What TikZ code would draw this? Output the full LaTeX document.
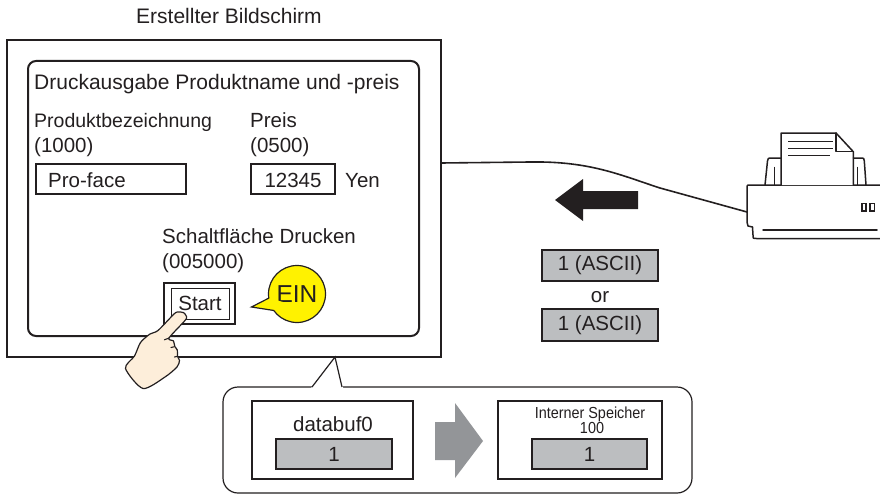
\documentclass[tikz,border=0pt]{standalone}
\usepackage{fontspec}
\setmainfont{Liberation Sans}
\definecolor{inkc}{HTML}{231F20}
\definecolor{boxgray}{HTML}{BCBEC0}
\definecolor{arrowgray}{HTML}{939598}
\definecolor{einyellow}{HTML}{FFF200}
\definecolor{skin}{RGB}{253,238,218}
\begin{document}
\begin{tikzpicture}[x=1pt,y=-1pt,
  txt/.style={inner sep=0pt, text=inkc, font=\fontsize{20.5}{24}\selectfont},
  bigtxt/.style={txt, font=\fontsize{21}{25}\selectfont},
  smalltxt/.style={txt, font=\fontsize{16}{16}\selectfont},
  frame/.style={rectangle, draw=inkc, line width=1.2pt, inner sep=0pt, text=inkc,
                font=\fontsize{20.5}{24}\selectfont},
  gbox/.style={frame, fill=boxgray},
  pr/.style={draw=inkc, line width=1.5pt, line join=round, line cap=round},
]
\useasboundingbox (0,0) rectangle (880,495);

% ---- screen ----
\node[bigtxt, anchor=base west] (caption) at (136,24) {Erstellter Bildschirm};
\node[frame, line width=2.7pt, minimum width=434pt, minimum height=317pt] (screen) at (224,198.5) {};
\node[frame, line width=2pt, rounded corners=8pt, minimum width=391pt, minimum height=275pt] (panel) at (223.5,198.5) {};

\node[bigtxt, anchor=base west] (title) at (34,89) {Druckausgabe Produktname und -preis};
\node[txt, anchor=base west, font=\fontsize{19.5}{24}\selectfont] (namelbl) at (34,127) {Produktbezeichnung};
\node[txt, anchor=base west] (nameaddr) at (34,152) {(1000)};
\node[txt, anchor=base west] (pricelbl) at (250,127) {Preis};
\node[txt, anchor=base west] (priceaddr) at (250,152) {(0500)};

\node[frame, minimum width=150pt, minimum height=30pt] (namebox) at (111,179) {};
\node[txt, anchor=base west] (nameval) at (48,187) {Pro-face};
\node[frame, minimum width=84pt, minimum height=30pt] (pricebox) at (293,179) {};
\node[txt, anchor=base] (priceval) at (293,187) {12345};
\node[txt, anchor=base west] (yen) at (345,187) {Yen};

\node[txt, anchor=base west] (btnlbl) at (162,243) {Schaltfläche Drucken};
\node[txt, anchor=base west] (btnaddr) at (162,268) {(005000)};
\node[frame, line width=2pt, minimum width=71pt, minimum height=41pt] (btnouter) at (199.5,303.5) {};
\node[frame, line width=1pt, minimum width=58pt, minimum height=31pt] (start) at (200,303.5) {Start};

% ---- EIN balloon ----
\node[circle, draw=inkc, line width=1.2pt, fill=einyellow, minimum size=57pt, inner sep=0pt,
      text=inkc, font=\fontsize{24.5}{28}\selectfont] (ein) at (297,294) {EIN};
\coordinate (einA) at (269,298);
\coordinate (einB) at (274,310.5);
\coordinate (eintip) at (251.5,307);
\fill[einyellow] (einA) -- (eintip) -- (einB) -- (283,302) -- cycle;
\draw[inkc, line width=1.2pt, line join=miter] (einA) -- (eintip) -- (einB);

% ---- pointing hand ----
\filldraw[fill=skin, draw=inkc, line width=1.2pt, line join=round]
  plot[smooth cycle, tension=0.45] coordinates {
    (178,312) (183.5,312.6) (186.5,316.5) (185,320.5) (169,338)
    (173.5,341) (174.8,346.5) (177.3,350) (177.6,356.5) (179.5,360.5) (177,367)
    (165,377) (143,388.5) (125.5,368.5) (134.5,356) (140.5,342.5) (150,334) (158,330.5) (174,314)};
\draw[inkc, line width=1.1pt, line cap=round] (169,338) -- (164.5,339.8);
\draw[inkc, line width=1.1pt, line cap=round] (174,346.8) -- (171,347.5);
\draw[inkc, line width=1.1pt, line cap=round] (177.4,356.3) -- (174.5,357);

% ---- cable and printer ----
\coordinate (cableA) at (441,163);
\coordinate (port) at (747,212);
\draw[inkc, line width=1.6pt] (cableA) -- (530,162) .. controls (590,161) and (620,175) .. (660,188) -- (port);

\fill[inkc] (555,200) -- (583,179) -- (583,191) -- (638,191) -- (638,209) -- (583,209) -- (583,221) -- cycle;

% printer body
\draw[pr] (882,185) -- (749.5,185) .. controls (747,185) .. (747,187.5) -- (747,222)
  -- (748,226) -- (752.5,227) -- (753,235) .. controls (753,238.5) .. (756.5,238.5) -- (882,238.5);
\draw[pr] (763,230) -- (877,230);
\draw[inkc, line width=1.2pt] (862,203.5) rectangle (866,211);
\draw[inkc, line width=1.2pt] (870,203.5) rectangle (874.5,211);
% paper
\draw[pr, fill=white] (781,185) -- (781,133) -- (836,133) -- (853.3,151.7) -- (853.3,185);
\draw[pr] (836,133) -- (836,151.7) -- (853.3,151.7);
\draw[inkc, line width=1.2pt] (788.3,141.7) -- (832.5,141.7);
\draw[inkc, line width=1.2pt] (788.3,148.3) -- (832.5,148.3);
\draw[inkc, line width=1.2pt] (788.3,155.7) -- (830,155.7);
% paper guides
\draw[pr] (765,185) -- (767.5,161) .. controls (768,158) .. (771,158) -- (781,158);
\draw[pr] (774.5,167.5) -- (774.5,185);
\draw[pr] (853.3,158) -- (861,158) .. controls (864,158) .. (864.3,161) -- (866,185);
\draw[pr] (857.3,167.5) -- (857.3,185);

% ---- transferred data ----
\node[gbox, minimum width=116pt, minimum height=31pt] (ascii1) at (600,265.5) {1 (ASCII)};
\node[txt, anchor=base] (orlbl) at (600,302) {or};
\node[gbox, minimum width=116pt, minimum height=32pt] (ascii2) at (600,325) {1 (ASCII)};

% ---- memory callout ----
\node[frame, fill=white, rounded corners=15pt, minimum width=469pt, minimum height=106pt] (bubble) at (457.5,440) {};
\coordinate (tailL) at (312,387);
\coordinate (tailR) at (342,387);
\coordinate (tailtip) at (335,357);
\fill[white] (311,388.2) -- (tailtip) -- (343.2,388.2) -- cycle;
\draw[inkc, line width=1.2pt] (tailL) -- (tailtip) -- (tailR);

\node[frame, minimum width=161pt, minimum height=78pt] (bufbox) at (332.5,440) {};
\node[txt, anchor=base] (buflbl) at (333,431) {databuf0};
\node[gbox, minimum width=116pt, minimum height=30pt] (bufval) at (334,454) {1};

\fill[arrowgray] (435,422) -- (455,422) -- (455,403) -- (483,441) -- (455,478) -- (455,460) -- (435,460) -- cycle;

\node[frame, minimum width=164pt, minimum height=78pt] (membox) at (580,440) {};
\node[smalltxt, anchor=base] (memlbl) at (590,418) {\scalebox{0.9}[1]{Interner Speicher}};
\node[smalltxt, anchor=base] (memaddr) at (592,433) {\scalebox{0.9}[1]{100}};
\node[gbox, minimum width=115pt, minimum height=30pt] (memval) at (589.5,454) {1};
\end{tikzpicture}
\end{document}
